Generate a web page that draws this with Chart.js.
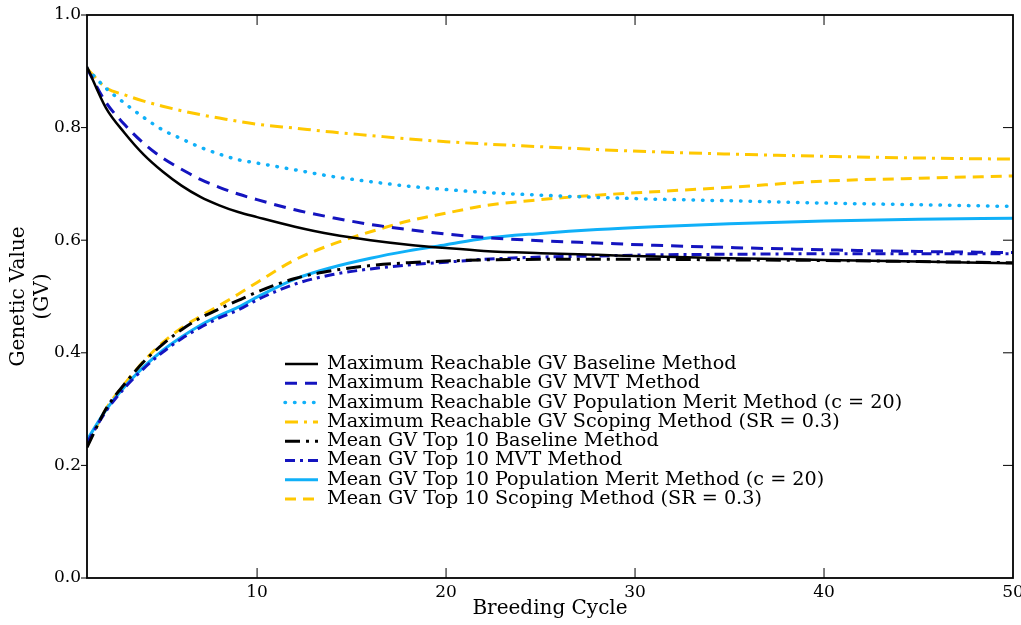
<!DOCTYPE html>
<html>
<head>
<meta charset="utf-8">
<script src="https://cdn.jsdelivr.net/npm/chart.js@4.4.0/dist/chart.umd.min.js"></script>
<style>
  html, body { margin: 0; padding: 0; background: #fff; }
  #wrap { width: 1021px; height: 625px; }
</style>
</head>
<body>
<div id="wrap"><canvas id="gvChart"></canvas></div>
<script>
const cycles = [1, 2, 3, 4, 5, 6, 7, 8, 9, 10, 12, 14, 16, 18, 20, 22, 25, 28, 31, 35, 40, 45, 50];

const maxBaseline = [0.908, 0.835, 0.790, 0.752, 0.722, 0.697, 0.677, 0.662, 0.650, 0.641, 0.624, 0.610, 0.600, 0.592, 0.586, 0.581, 0.577, 0.574, 0.571, 0.568, 0.565, 0.562, 0.559];
const maxMVT      = [0.905, 0.845, 0.805, 0.772, 0.746, 0.726, 0.708, 0.694, 0.682, 0.672, 0.654, 0.640, 0.628, 0.619, 0.611, 0.605, 0.599, 0.595, 0.591, 0.587, 0.583, 0.580, 0.578];
const maxPopMerit = [0.905, 0.870, 0.843, 0.818, 0.796, 0.780, 0.765, 0.753, 0.743, 0.737, 0.725, 0.713, 0.704, 0.696, 0.690, 0.685, 0.680, 0.676, 0.673, 0.670, 0.666, 0.663, 0.660];
const maxScoping  = [0.905, 0.871, 0.858, 0.847, 0.838, 0.830, 0.823, 0.817, 0.811, 0.806, 0.799, 0.792, 0.786, 0.780, 0.775, 0.771, 0.766, 0.761, 0.757, 0.753, 0.749, 0.746, 0.744];
const meanBaseline = [0.232, 0.300, 0.345, 0.384, 0.415, 0.441, 0.462, 0.478, 0.493, 0.508, 0.532, 0.546, 0.555, 0.560, 0.563, 0.565, 0.566, 0.566, 0.566, 0.565, 0.564, 0.562, 0.560];
const meanMVT      = [0.240, 0.296, 0.338, 0.372, 0.401, 0.425, 0.445, 0.462, 0.476, 0.494, 0.522, 0.539, 0.549, 0.556, 0.561, 0.566, 0.570, 0.572, 0.574, 0.575, 0.576, 0.576, 0.576];
const meanPopMerit = [0.245, 0.298, 0.340, 0.375, 0.404, 0.428, 0.449, 0.466, 0.481, 0.499, 0.531, 0.552, 0.568, 0.581, 0.592, 0.603, 0.612, 0.619, 0.624, 0.629, 0.634, 0.637, 0.639];
const meanScoping  = [0.235, 0.300, 0.345, 0.385, 0.418, 0.444, 0.465, 0.484, 0.504, 0.525, 0.565, 0.593, 0.615, 0.634, 0.648, 0.661, 0.672, 0.680, 0.686, 0.694, 0.705, 0.710, 0.714];

const seriesLabels = [
  'Maximum Reachable GV Baseline Method',
  'Maximum Reachable GV MVT Method',
  'Maximum Reachable GV Population Merit Method (c = 20)',
  'Maximum Reachable GV Scoping Method (SR = 0.3)',
  'Mean GV Top 10 Baseline Method',
  'Mean GV Top 10 MVT Method',
  'Mean GV Top 10 Population Merit Method (c = 20)',
  'Mean GV Top 10 Scoping Method (SR = 0.3)'
];
const xTicks = [10, 20, 30, 40, 50];
const yTicks = [0, 0.2, 0.4, 0.6, 0.8, 1.0];

const BLACK = '#000000';
const BLUE = '#1414bf';
const CYAN = '#10b0f8';
const GOLD = '#ffc800';
const SERIF = '"DejaVu Serif", serif';

function pts(values) {
  return values.map((v, i) => ({ x: cycles[i], y: v }));
}

function line(label, values, color, dash, width, cap) {
  return {
    label: label,
    data: pts(values),
    borderColor: color,
    backgroundColor: color,
    borderWidth: width,
    borderDash: dash,
    borderCapStyle: cap || 'butt',
    pointRadius: 0,
    fill: false,
    cubicInterpolationMode: 'monotone'
  };
}

const datasets = [
  line(seriesLabels[0], maxBaseline, BLACK, [], 2.5),
  line(seriesLabels[1], maxMVT, BLUE, [12, 8], 3),
  line(seriesLabels[2], maxPopMerit, CYAN, [0.5, 9], 3.5, 'round'),
  line(seriesLabels[3], maxScoping, GOLD, [13, 6, 3, 6], 3),
  line(seriesLabels[4], meanBaseline, BLACK, [15, 6, 3, 6], 3),
  line(seriesLabels[5], meanMVT, BLUE, [10, 5, 3, 5], 3),
  line(seriesLabels[6], meanPopMerit, CYAN, [], 3),
  line(seriesLabels[7], meanScoping, GOLD, [11, 7], 3)
];

// frame with tick marks like the original plot
const framePlugin = {
  id: 'frame',
  afterDraw(chart) {
    const { ctx, chartArea: a, scales } = chart;
    ctx.save();
    ctx.strokeStyle = '#000';
    ctx.setLineDash([]);
    ctx.lineWidth = 1.8;
    ctx.strokeRect(a.left, a.top, a.right - a.left, a.bottom - a.top);
    ctx.lineWidth = 1;
    ctx.beginPath();
    yTicks.forEach(v => {
      const y = scales.y.getPixelForValue(v);
      ctx.moveTo(a.left - 6, y); ctx.lineTo(a.left, y);
      if (v > 0 && v < 1) { ctx.moveTo(a.right - 10, y); ctx.lineTo(a.right, y); }
    });
    xTicks.forEach(v => {
      if (v >= 50) return;
      const x = scales.x.getPixelForValue(v);
      ctx.moveTo(x, a.bottom); ctx.lineTo(x, a.bottom - 10);
      ctx.moveTo(x, a.top); ctx.lineTo(x, a.top + 10);
    });
    ctx.stroke();
    ctx.restore();
  }
};

// legend drawn inside the plot area
const legendPlugin = {
  id: 'innerLegend',
  afterDraw(chart) {
    const { ctx } = chart;
    const x0 = 285, x1 = 318, tx = 327, y0 = 364, dy = 19.3;
    ctx.save();
    ctx.font = '19.2px ' + SERIF;
    ctx.textBaseline = 'middle';
    chart.data.datasets.forEach((ds, i) => {
      const y = y0 + i * dy;
      ctx.strokeStyle = ds.borderColor;
      ctx.lineWidth = ds.borderWidth;
      ctx.lineCap = ds.borderCapStyle;
      ctx.setLineDash(ds.borderDash);
      ctx.beginPath();
      ctx.moveTo(x0, y); ctx.lineTo(x1, y);
      ctx.stroke();
      ctx.fillStyle = '#000';
      ctx.fillText(ds.label, tx, y);
    });
    ctx.restore();
  }
};

new Chart(document.getElementById('gvChart'), {
  type: 'line',
  data: { datasets: datasets },
  plugins: [framePlugin, legendPlugin],
  options: {
    responsive: true,
    maintainAspectRatio: false,
    animation: false,
    events: [],
    layout: { padding: { top: 15, right: 8, left: 0, bottom: 0 } },
    plugins: { legend: { display: false }, tooltip: { enabled: false } },
    scales: {
      x: {
        type: 'linear',
        min: 1,
        max: 50,
        afterBuildTicks: s => { s.ticks = xTicks.map(v => ({ value: v })); },
        afterFit: s => { s.height = 47; s.paddingLeft = 0; s.paddingRight = 0; },
        grid: { display: false, drawTicks: false },
        border: { display: false },
        ticks: { color: '#000', padding: 4, maxRotation: 0, font: { family: SERIF, size: 17 } },
        title: { display: true, text: 'Breeding Cycle', color: '#000', padding: { top: 0, bottom: 4 }, font: { family: SERIF, size: 20 } }
      },
      y: {
        min: 0,
        max: 1,
        afterBuildTicks: s => { s.ticks = yTicks.map(v => ({ value: v })); },
        afterFit: s => { s.width = 87; s.paddingTop = 0; s.paddingBottom = 0; },
        grid: { display: false, drawTicks: false },
        border: { display: false },
        ticks: { color: '#000', padding: 6, callback: v => v.toFixed(1), font: { family: SERIF, size: 17 } },
        title: { display: true, text: ['Genetic Value', '(GV)'], color: '#000', padding: { top: 7, bottom: 0 }, font: { family: SERIF, size: 20 } }
      }
    }
  }
});
</script>
</body>
</html>
